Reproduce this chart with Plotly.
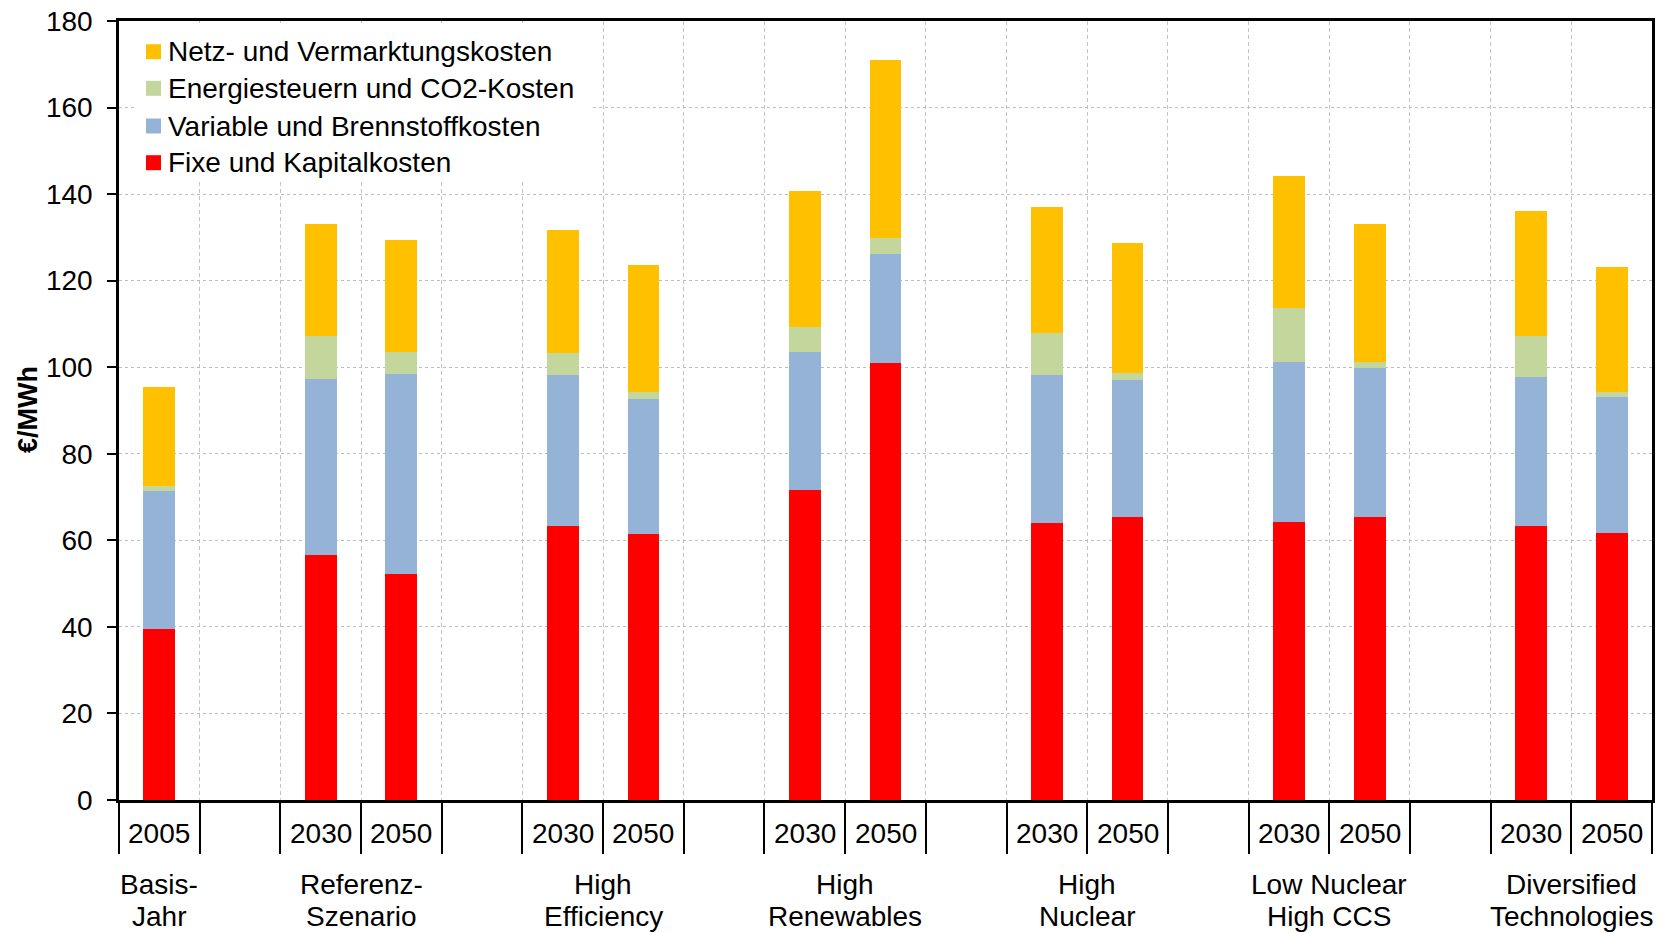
import plotly.graph_objects as go

# Slots along the category axis (empty strings are spacer slots between scenarios)
year_labels = ["2005", "", "2030", "2050", "", "2030", "2050", "", "2030", "2050",
               "", "2030", "2050", "", "2030", "2050", "", "2030", "2050"]

# Cost components in EUR/MWh, bottom to top of each stack
fixe_kapital = [39.6, None, 56.6, 52.3, None, 63.4, 61.5, None, 71.7, 100.9,
                None, 63.9, 65.3, None, 64.2, 65.3, None, 63.2, 61.8]
variable_brennstoff = [31.8, None, 40.7, 46.2, None, 34.7, 31.2, None, 31.9, 25.3,
                       None, 34.4, 31.8, None, 37.1, 34.6, None, 34.6, 31.4]
energiesteuern_co2 = [1.2, None, 9.9, 5.1, None, 5.1, 1.5, None, 5.7, 3.7,
                      None, 9.5, 1.5, None, 12.3, 1.4, None, 9.5, 1.0]
netz_vermarktung = [22.8, None, 25.9, 25.8, None, 28.6, 29.4, None, 31.4, 41.0,
                    None, 29.3, 30.0, None, 30.7, 31.8, None, 28.9, 28.9]

# Scenario names (two lines each) and the slots they span
scenario_lines = [("Basis-", "Jahr"), ("Referenz-", "Szenario"), ("High", "Efficiency"),
                  ("High", "Renewables"), ("High", "Nuclear"), ("Low Nuclear", "High CCS"),
                  ("Diversified", "Technologies")]
scenario_slots = [[0], [2, 3], [5, 6], [8, 9], [11, 12], [14, 15], [17, 18]]

series = [
    ("Fixe und Kapitalkosten", fixe_kapital, "#FF0000"),
    ("Variable und Brennstoffkosten", variable_brennstoff, "#95B3D7"),
    ("Energiesteuern und CO2-Kosten", energiesteuern_co2, "#C3D69B"),
    ("Netz- und Vermarktungskosten", netz_vermarktung, "#FFC000"),
]

FONT = "Liberation Sans, Arial, sans-serif"
W, H = 1668, 933
L, R, T, B = 119, 16, 21, 133
plot_w = W - L - R
plot_h = H - T - B


def px_x(px):
    return (px - L) / plot_w


def px_y(py):
    return (H - B - py) / plot_h


x_pos = list(range(len(year_labels)))

fig = go.Figure()
for name, vals, color in series:
    fig.add_trace(go.Bar(
        x=x_pos, y=vals, name=name, width=0.395,
        marker=dict(color=color, line=dict(width=0)),
        showlegend=False,
    ))

fig.update_layout(
    barmode="stack",
    width=W, height=H,
    margin=dict(l=L, r=R, t=T, b=B, autoexpand=False),
    paper_bgcolor="white", plot_bgcolor="white",
    font=dict(family=FONT, color="black"),
)

fig.update_xaxes(
    range=[-0.5, len(year_labels) - 0.5],
    tickvals=[i - 0.5 for i in range(len(year_labels) + 1)],
    ticktext=[""] * (len(year_labels) + 1),
    ticks="outside", ticklen=51, tickwidth=1.5, tickcolor="black",
    showgrid=True, gridcolor="#c4c4c4", gridwidth=1, griddash="4px,3px",
    showline=True, linecolor="black", linewidth=2.5, mirror=True,
    zeroline=False, automargin=False,
)
fig.update_yaxes(
    range=[0, 180], tickvals=list(range(0, 181, 20)),
    ticks="outside", ticklen=9, tickwidth=1.5, tickcolor="black",
    tickfont=dict(size=28, family=FONT), ticklabelstandoff=9,
    showgrid=True, gridcolor="#bdbdbd", gridwidth=1, griddash="dot",
    showline=True, linecolor="black", linewidth=2.5, mirror=True,
    zeroline=False, automargin=False,
)

annotations = []
# y-axis title
annotations.append(dict(
    text="<b>€/MWh</b>", textangle=-90, xref="paper", yref="paper",
    x=px_x(28), y=px_y(410), xanchor="center", yanchor="middle",
    showarrow=False, font=dict(size=27, family=FONT, color="black"),
))
# year labels under each bar
for i, lab in enumerate(year_labels):
    if lab:
        annotations.append(dict(
            text=lab, x=i, xref="x", y=px_y(833), yref="paper",
            xanchor="center", yanchor="middle", showarrow=False,
            font=dict(size=28, family=FONT, color="black"),
        ))
# scenario names
for (l1, l2), slots in zip(scenario_lines, scenario_slots):
    cx = sum(slots) / len(slots)
    for txt, py in ((l1, 884), (l2, 916)):
        annotations.append(dict(
            text=txt, x=cx, xref="x", y=px_y(py), yref="paper",
            xanchor="center", yanchor="middle", showarrow=False,
            font=dict(size=28, family=FONT, color="black"),
        ))

# legend box
shapes = [dict(
    type="rect", xref="paper", yref="paper",
    x0=px_x(136), x1=px_x(592), y0=px_y(182), y1=px_y(23),
    fillcolor="white", line=dict(width=0), layer="above",
)]
row_y = [51.7, 88.3, 126.0, 162.7]
for (name, _, color), ry in zip(reversed(series), row_y):
    shapes.append(dict(
        type="rect", xref="paper", yref="paper",
        x0=px_x(146), x1=px_x(161), y0=px_y(ry + 7.5), y1=px_y(ry - 7.5),
        fillcolor=color, line=dict(width=0), layer="above",
    ))
    annotations.append(dict(
        text=name, xref="paper", yref="paper", x=px_x(166), y=px_y(ry),
        xanchor="left", yanchor="middle", showarrow=False,
        font=dict(size=28, family=FONT, color="black"),
    ))

fig.update_layout(annotations=annotations, shapes=shapes)
fig.write_html("out.html")
